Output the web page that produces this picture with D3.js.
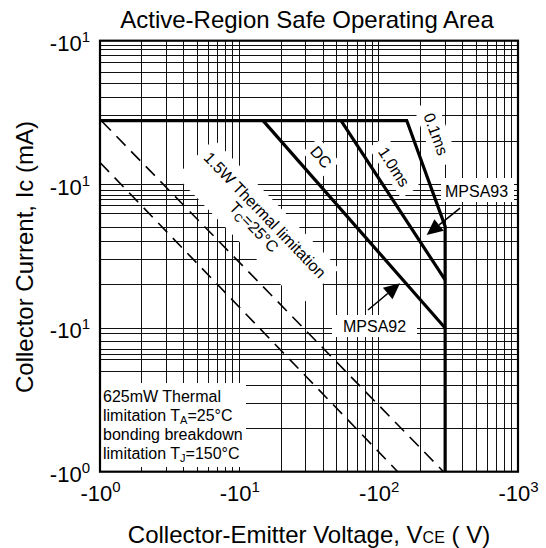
<!DOCTYPE html>
<html><head><meta charset="utf-8">
<script src="https://cdn.jsdelivr.net/npm/d3@7"></script>
<style>
body{margin:0;background:#fff}
svg{display:block}
text{font-family:"Liberation Sans",Arial,Helvetica,sans-serif;fill:#000}
</style>
</head><body>
<svg id="chart" width="546" height="548"></svg>
<script>
// ---------- data (V in volts, Ic in mA; shown negative on labels) ----------
const xDecades = [1, 10, 100, 1000];
const xExponents = ["0", "1", "2", "3"];
const yDecades = [1, 10, 100, 1000];
const yExponents = ["0", "1", "1", "1"];
const xMinorMultipliers = [2, 3, 4, 5, 6, 7, 8, 9];
const yGridValues = [2, 3, 4, 5, 6, 6.5, 7.1, 8, 9.1, 10,
                     20, 30, 40, 50, 63, 71, 78, 84, 91, 100,
                     200, 300, 400, 500, 600, 710, 790, 870, 930];
const yGridStartV = { 200: 20 };   // grid line that only starts at this voltage
const limit01ms = [[1, 278], [159, 278], [300, 51], [300, 1]];
const limit1ms  = [[53.7, 278], [300, 21.6]];
const limitDC   = [[14.8, 278], [300, 10]];
const thermal15W  = [[1.03, 275], [292, 1]];
const thermal625mW = [[1, 142], [137, 1]];
const arrowMPSA93 = [[384, 68.4], [221, 44.4]];
const arrowMPSA92 = [[83.8, 13.35], [142.3, 20.5]];

// ---------- layout ----------
const svg = d3.select("#chart");
const L = 100, R = 518, T = 40.7, B = 471.7;
const x = d3.scaleLog().domain([1, 1000]).range([L, R]);
const y = d3.scaleLog().domain([1, 1000]).range([B, T]);

// grid
const xGrid = [];
[1, 10, 100].forEach(d => xMinorMultipliers.forEach(m => xGrid.push(d * m)));
xGrid.push(10, 100);
const grid = svg.append("g").attr("stroke", "#111").attr("stroke-width", 1).attr("shape-rendering", "crispEdges");
grid.selectAll("line.v").data(xGrid).join("line").attr("class", "v")
  .attr("x1", d => x(d)).attr("x2", d => x(d)).attr("y1", T).attr("y2", B);
grid.selectAll("line.h").data(yGridValues).join("line").attr("class", "h")
  .attr("x1", d => yGridStartV[d] ? x(yGridStartV[d]) : L).attr("x2", R)
  .attr("y1", d => y(d)).attr("y2", d => y(d));

// white label backgrounds (rotated boxes)
function whiteBox(cx, cy, ang, u0, u1, n0, n1) {
  svg.append("rect").attr("x", u0).attr("y", n0).attr("width", u1 - u0).attr("height", n1 - n0)
    .attr("fill", "#fff").attr("transform", `translate(${cx},${cy}) rotate(${ang})`);
}
whiteBox(265, 215, 46, -90, 90, -16, 37);     // 1.5W thermal label
whiteBox(321, 157, 49, -16, 16, -11, 11);     // DC
whiteBox(394, 167, 57, -30, 30, -11, 11);     // 1.0ms
whiteBox(436, 134, 70, -32, 32, -12, 12);     // 0.1ms
svg.append("rect").attr("x", 441).attr("y", 178).attr("width", 73).attr("height", 24).attr("fill", "#fff");
svg.append("rect").attr("x", 332).attr("y", 315).attr("width", 85).attr("height", 22).attr("fill", "#fff");
svg.append("rect").attr("x", 101).attr("y", 383).attr("width", 145).attr("height", 84).attr("fill", "#fff");

// curves
const line = d3.line().x(d => x(d[0])).y(d => y(d[1]));
[thermal15W, thermal625mW].forEach(s =>
  svg.append("path").attr("d", line(s)).attr("fill", "none").attr("stroke", "#000")
    .attr("stroke-width", 1.6).attr("stroke-dasharray", "13,8"));
[limit01ms, limit1ms, limitDC].forEach(s =>
  svg.append("path").attr("d", line(s)).attr("fill", "none").attr("stroke", "#000")
    .attr("stroke-width", 3.2).attr("stroke-linejoin", "miter"));

// arrows
function arrow(pts) {
  const p0 = [x(pts[0][0]), y(pts[0][1])], p1 = [x(pts[1][0]), y(pts[1][1])];
  const dx = p1[0] - p0[0], dy = p1[1] - p0[1], len = Math.hypot(dx, dy);
  const ux = dx / len, uy = dy / len, hl = 16, hw = 7.5;
  const b = [p1[0] - ux * hl, p1[1] - uy * hl];
  svg.append("line").attr("x1", p0[0]).attr("y1", p0[1]).attr("x2", b[0]).attr("y2", b[1])
    .attr("stroke", "#000").attr("stroke-width", 1.6);
  svg.append("path").attr("d", `M${p1[0]},${p1[1]}L${b[0] - uy * hw},${b[1] + ux * hw}L${b[0] + uy * hw},${b[1] - ux * hw}Z`)
    .attr("fill", "#000");
}
arrow(arrowMPSA93);
arrow(arrowMPSA92);

// frame
svg.append("rect").attr("x", L).attr("y", T).attr("width", R - L).attr("height", B - T)
  .attr("fill", "none").attr("stroke", "#000").attr("stroke-width", 2.2);

// axes tick labels
const xAxis = svg.append("g").attr("transform", `translate(0,${B})`)
  .call(d3.axisBottom(x).tickValues(xDecades).tickSize(0).tickFormat(""));
xAxis.select(".domain").remove();
xAxis.selectAll(".tick").each(function(d, i) {
  const t = d3.select(this).append("text").attr("y", 29.5).attr("text-anchor", "middle")
    .attr("font-size", 22);
  t.append("tspan").text("-10");
  t.append("tspan").attr("dy", -9).attr("font-size", 15).text(xExponents[i]);
});
const yAxis = svg.append("g").attr("transform", `translate(${L},0)`)
  .call(d3.axisLeft(y).tickValues(yDecades).tickSize(0).tickFormat(""));
yAxis.select(".domain").remove();
yAxis.selectAll(".tick").each(function(d, i) {
  const t = d3.select(this).append("text").attr("x", -10).attr("y", 9.8).attr("text-anchor", "end")
    .attr("font-size", 22);
  t.append("tspan").text("-10");
  t.append("tspan").attr("dy", -9).attr("font-size", 15).text(yExponents[i]);
});

// titles
svg.append("text").attr("x", 307).attr("y", 28).attr("text-anchor", "middle").attr("font-size", 24)
  .text("Active-Region Safe Operating Area");
const xt = svg.append("text").attr("x", 309).attr("y", 543).attr("text-anchor", "middle").attr("font-size", 24);
xt.append("tspan").text("Collector-Emitter Voltage, V");
xt.append("tspan").attr("font-size", 16).text("CE");
xt.append("tspan").text(" ( V)");
svg.append("text").attr("transform", "translate(33,257) rotate(-90)").attr("text-anchor", "middle")
  .attr("font-size", 24).text("Collector Current, Ic (mA)");

// annotations
function rotText(cx, cy, ang, build) {
  const t = svg.append("text").attr("transform", `translate(${cx},${cy}) rotate(${ang})`)
    .attr("text-anchor", "middle").attr("dy", "0.35em").attr("font-size", 16);
  build(t);
}
rotText(265, 215, 46, t => t.text("1.5W Thermal limitation"));
rotText(254, 227, 46, t => {
  t.append("tspan").text("T");
  t.append("tspan").attr("font-size", 11).attr("dy", 3).text("C");
  t.append("tspan").attr("dy", -3).text("=25°C");
});
rotText(321, 157, 49, t => t.text("DC"));
rotText(394, 167, 57, t => t.text("1.0ms"));
rotText(436, 134, 70, t => t.text("0.1ms"));
svg.append("text").attr("x", 445).attr("y", 196.5).attr("font-size", 16).text("MPSA93");
svg.append("text").attr("x", 343).attr("y", 331.5).attr("font-size", 16).text("MPSA92");
const boxLines = [
  [["625mW Thermal", 0]],
  [["limitation T", 0], ["A", 1], ["=25°C", 0]],
  [["bonding breakdown", 0]],
  [["limitation T", 0], ["J", 1], ["=150°C", 0]]
];
boxLines.forEach((parts, i) => {
  const t = svg.append("text").attr("x", 103).attr("y", 401.5 + i * 19.3).attr("font-size", 16);
  let sub = false;
  parts.forEach(([s, isSub]) => {
    const ts = t.append("tspan").text(s);
    if (isSub && !sub) { ts.attr("font-size", 11).attr("dy", 3); sub = true; }
    else if (!isSub && sub) { ts.attr("dy", -3); sub = false; }
  });
});
</script>
</body></html>
